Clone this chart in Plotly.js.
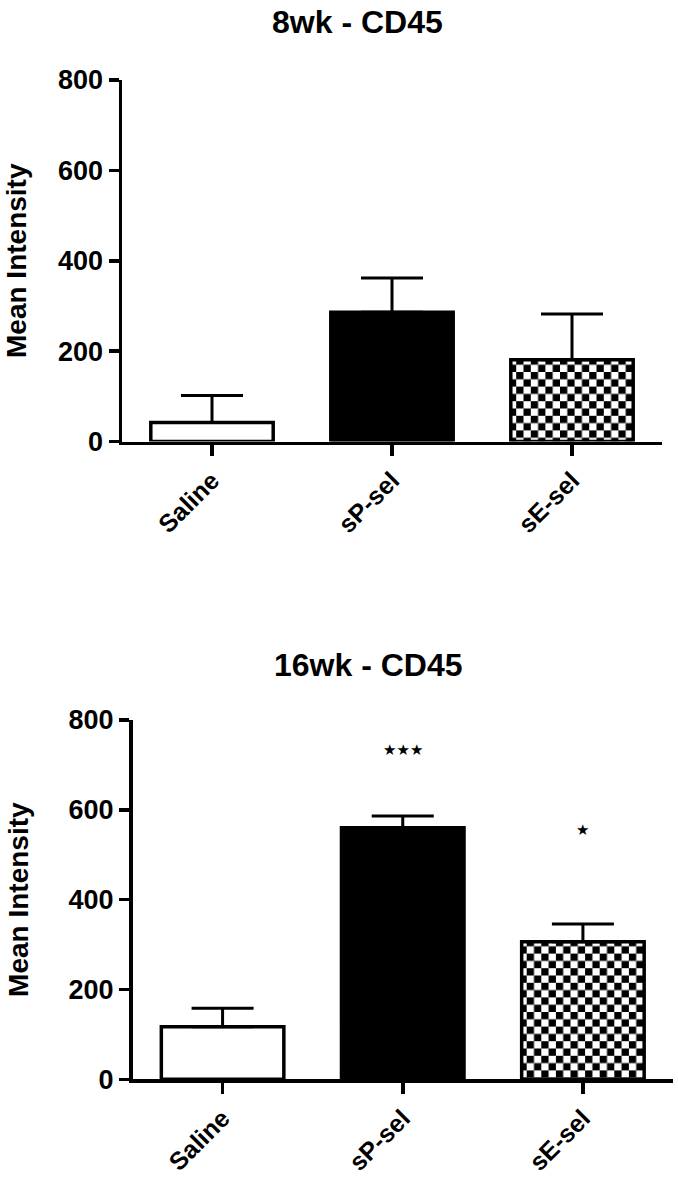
<!DOCTYPE html>
<html>
<head>
<meta charset="utf-8">
<script src="https://cdn.plot.ly/plotly-3.0.1.min.js"></script>
<style>
html,body{margin:0;padding:0;background:#fff;}
#chart{width:678px;height:1179px;}
</style>
</head>
<body>
<div id="chart"></div>
<script>
// ---- data ----
const categories = ['Saline', 'sP-sel', 'sE-sel'];
const mean8wk = [42, 286, 181];
const sem8wk = [60, 76, 101];
const mean16wk = [117, 560, 306];
const sem16wk = [41, 26, 40];
const sig16wk = ['', '\u2605\u2605\u2605', '\u2605'];
const sigPos16wk = [0, 733, 555];
const yTicks = [0, 200, 400, 600, 800];
const titles = ['8wk - CD45', '16wk - CD45'];

const FONT = 'Liberation Sans, Arial, sans-serif';
const fills = ['white', 'black', 'white'];
const shapes = ['', '', '+'];

function barTrace(means, sems, xa, ya) {
  return {
    type: 'bar', x: categories, y: means, xaxis: xa, yaxis: ya,
    width: 0.68,
    marker: {
      color: fills,
      line: {color: 'black', width: 3.5},
      pattern: {shape: shapes, size: 14.6, solidity: 0.5, fgcolor: 'black', bgcolor: 'white', fillmode: 'replace'}
    },
    error_y: {type: 'data', array: sems, arrayminus: [0, 0, 0], symmetric: false,
              color: 'black', thickness: 3, width: 31},
    hoverinfo: 'none', showlegend: false
  };
}

const traces = [barTrace(mean8wk, sem8wk, 'x', 'y'), barTrace(mean16wk, sem16wk, 'x2', 'y2')];

const tickFont = {family: FONT, size: 27, color: 'black', weight: 700};
function xAxis(domain, anchor) {
  return {domain: domain, anchor: anchor, range: [-0.5, 2.5], showline: true, linecolor: 'black', linewidth: 3.5,
          ticks: 'outside', ticklen: 11, tickwidth: 3.5, tickcolor: 'black', tickangle: -45,
          tickfont: {family: FONT, size: 25, color: 'black', weight: 700}, showgrid: false, zeroline: false,
          fixedrange: true};
}
function yAxis(domain, anchor, standoff) {
  return {domain: domain, anchor: anchor, range: [0, 800], tickvals: yTicks, ticktext: yTicks.map(String),
          showline: true, linecolor: 'black', linewidth: 3.5, ticks: 'outside', ticklen: 10, tickwidth: 3.5,
          tickcolor: 'black', tickfont: tickFont, showgrid: false, zeroline: false,
          title: {text: 'Mean Intensity', font: {family: FONT, size: 28, color: 'black', weight: 700}, standoff: standoff},
          fixedrange: true};
}

const annotations = [
  {text: titles[0], xref: 'paper', yref: 'paper', x: 357 / 678, y: 1 - 22 / 1179, showarrow: false,
   font: {family: FONT, size: 32, color: 'black', weight: 700}, xanchor: 'center', yanchor: 'middle'},
  {text: titles[1], xref: 'paper', yref: 'paper', x: 368 / 678, y: 1 - 665 / 1179, showarrow: false,
   font: {family: FONT, size: 32, color: 'black', weight: 700}, xanchor: 'center', yanchor: 'middle'}
];
categories.forEach((c, i) => {
  if (sig16wk[i]) {
    annotations.push({text: sig16wk[i], x: c, y: sigPos16wk[i], xref: 'x2', yref: 'y2', showarrow: false,
      font: {family: 'DejaVu Sans', size: 15, color: 'black'}, xanchor: 'center', yanchor: 'middle'});
  }
});

const layout = {
  width: 678, height: 1179,
  margin: {l: 0, r: 0, t: 0, b: 0},
  paper_bgcolor: 'white', plot_bgcolor: 'white',
  xaxis: xAxis([122 / 678, 662 / 678], 'y'),
  yaxis: yAxis([1 - 441.5 / 1179, 1 - 80 / 1179], 'x', 24),
  xaxis2: xAxis([132.5 / 678, 673 / 678], 'y2'),
  yaxis2: yAxis([1 - 1079.3 / 1179, 1 - 720 / 1179], 'x2', 32),
  annotations: annotations,
  font: {family: FONT, color: 'black'}
};

Plotly.newPlot('chart', traces, layout, {displayModeBar: false, staticPlot: true}).then(function () {
  // turn the fill pattern into a checkerboard
  document.querySelectorAll('pattern').forEach(function (p) {
    const s = parseFloat(p.getAttribute('width'));
    while (p.firstChild) p.removeChild(p.firstChild);
    const ns = 'http://www.w3.org/2000/svg';
    const bg = document.createElementNS(ns, 'rect');
    bg.setAttribute('x', 0); bg.setAttribute('y', 0); bg.setAttribute('width', s); bg.setAttribute('height', s);
    bg.setAttribute('fill', 'white');
    p.appendChild(bg);
    [[0, 0], [s / 2, s / 2]].forEach(function (o) {
      const r = document.createElementNS(ns, 'rect');
      r.setAttribute('x', o[0]); r.setAttribute('y', o[1]);
      r.setAttribute('width', s / 2); r.setAttribute('height', s / 2);
      r.setAttribute('fill', 'black');
      p.appendChild(r);
    });
  });
});
</script>
</body>
</html>
